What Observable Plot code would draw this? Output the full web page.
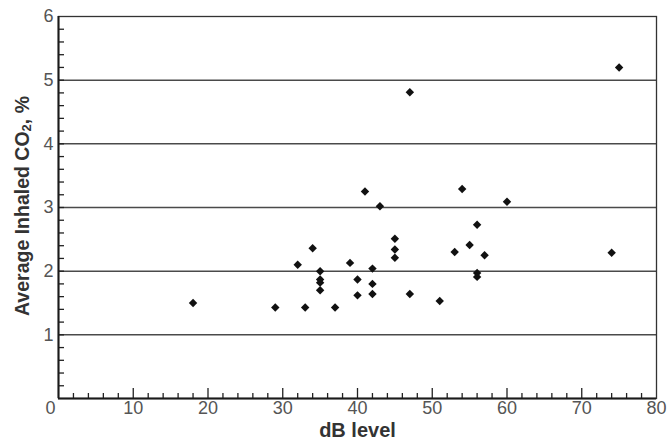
<!DOCTYPE html>
<html><head><meta charset="utf-8">
<script src="https://cdn.jsdelivr.net/npm/d3@7"></script>
<script src="https://cdn.jsdelivr.net/npm/@observablehq/plot@0.6"></script>
<style>body{margin:0;background:#fff} svg{display:block}</style>
</head><body><div id="chart"></div>
<script>
// data
const dbLevel = [18,29,32,33,34,35,35,35,35,37,39,40,40,41,42,42,42,43,45,45,45,47,47,51,53,54,55,56,56,56,57,60,74,75];
const co2     = [1.50,1.43,2.10,1.43,2.36,2.00,1.87,1.82,1.70,1.43,2.13,1.87,1.62,3.25,2.04,1.80,1.64,3.02,2.51,2.34,2.21,4.81,1.64,1.53,2.30,3.29,2.41,2.73,1.97,1.91,2.25,3.09,2.29,5.20];
const xTickLabels = [10,20,30,40,50,60,70,80];
const xZeroLabel = [0];
const yTickLabels = [1,2,3,4,5,6];
const yGridLines = [1,2,3,4,5];
const xMajorTicks = [10,20,30,40,50,60,70];
const xMinorTicks = [2,4,6,8,12,14,16,18,22,24,26,28,32,34,36,38,42,44,46,48,52,54,56,58,62,64,66,68,72,74,76,78];
const yMinorTicks = [0.2,0.4,0.6,0.8,1,1.2,1.4,1.6,1.8,2,2.2,2.4,2.6,2.8,3,3.2,3.4,3.6,3.8,4,4.2,4.4,4.6,4.8,5,5.2,5.4,5.6,5.8];
const xTitle = "dB level";

const points = dbLevel.map((x, i) => ({x, y: co2[i]}));
const font = "'Liberation Sans', Arial, sans-serif";
const intFmt = d => String(d);

const chart = Plot.plot({
  width: 668,
  height: 442,
  marginLeft: 58,
  marginRight: 12,
  marginTop: 16,
  marginBottom: 44,
  style: {fontFamily: font, background: "#fff"},
  x: {domain: [0, 80], label: null},
  y: {domain: [0, 6], label: null},
  marks: [
    Plot.ruleY(yGridLines, {stroke: "#4a4a4a", strokeWidth: 1.5}),
    Plot.frame({stroke: "#333", strokeWidth: 1.3}),
    Plot.axisX({ticks: xMinorTicks, tickSize: -5, tickFormat: () => "", stroke: "#222", strokeWidth: 1.3, label: null}),
    Plot.axisX({ticks: xMajorTicks, tickSize: -10, tickFormat: () => "", stroke: "#222", strokeWidth: 1.3, label: null}),
    Plot.axisY({ticks: yMinorTicks, tickSize: -6, tickFormat: () => "", stroke: "#222", strokeWidth: 1.3, label: null}),
    Plot.ruleX([0], {stroke: "#1a1a1a", strokeWidth: 2}),
    Plot.ruleY([0], {stroke: "#1a1a1a", strokeWidth: 2}),
    Plot.axisX({ticks: xTickLabels, tickFormat: intFmt, tickSize: 0, tickPadding: 3, fontSize: 18, color: "#555", label: null}),
    Plot.axisX({ticks: xZeroLabel, tickFormat: intFmt, tickSize: 0, tickPadding: 3, fontSize: 18, color: "#555", dx: -8, label: null}),
    Plot.axisY({ticks: yTickLabels, tickFormat: intFmt, tickSize: 0, tickPadding: 5, fontSize: 18, color: "#555", label: null}),
    Plot.text([xTitle], {frameAnchor: "bottom", dy: 38, fontSize: 20, fontWeight: "bold", fill: "#333"}),
    Plot.dot(points, {x: "x", y: "y", symbol: "diamond2", r: 3.8, fill: "#111", stroke: "none"})
  ]
});

// y-axis title with subscript
const svg = d3.select(chart);
const t = svg.append("text")
  .attr("transform", "translate(22,206) rotate(-90)")
  .attr("text-anchor", "middle")
  .attr("dominant-baseline", "central")
  .attr("font-family", font)
  .attr("font-size", 19.5)
  .attr("font-weight", "bold")
  .attr("fill", "#333");
t.append("tspan").text("Average Inhaled CO");
t.append("tspan").attr("font-size", 13).attr("dy", 4).text("2");
t.append("tspan").attr("dy", -4).text(", %");

document.getElementById("chart").append(chart);
</script>
</body></html>
